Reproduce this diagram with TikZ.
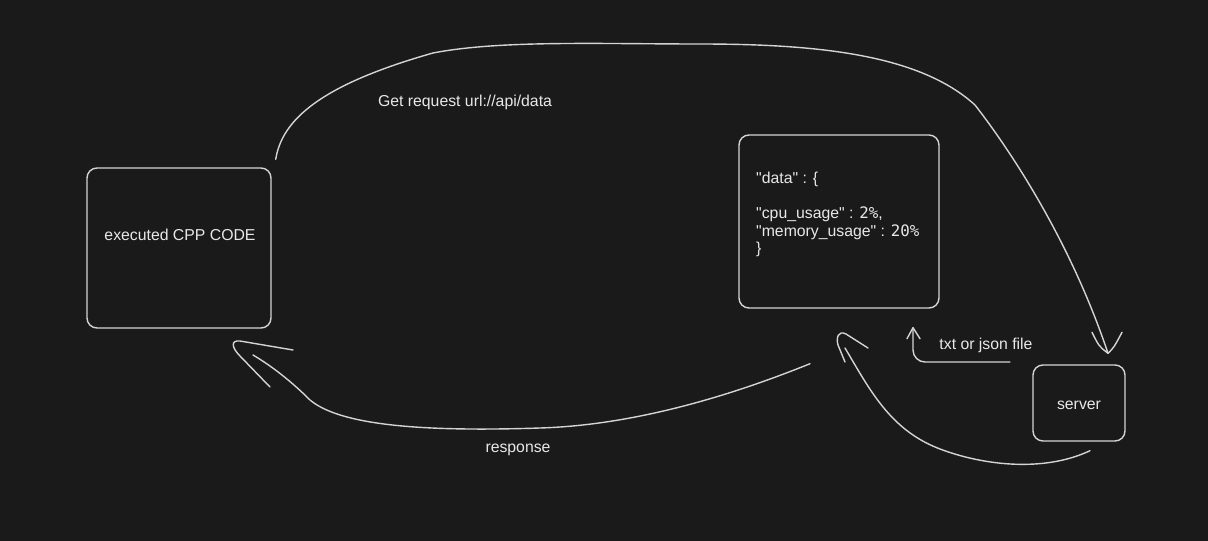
\documentclass[tikz,border=0pt]{standalone}
\usepackage{fontspec}
\setmainfont{Liberation Sans}
\newfontfamily\numfont{DejaVu Sans Mono}
\usetikzlibrary{calc}
\definecolor{bgdark}{RGB}{26,26,26}
\definecolor{penline}{RGB}{212,212,212}
\definecolor{pentext}{RGB}{232,232,232}
\newcommand{\qt}[1]{\textquotedbl #1\textquotedbl}
\tikzset{
	box/.style={draw=penline, line width=1.4pt, rounded corners=10pt, inner sep=0pt},
	lbl/.style={text=pentext, inner sep=0pt, anchor=base, font=\fontsize{15.8}{19}\selectfont},
	wire/.style={draw=penline, line width=1.4pt, line cap=round, line join=round}
}
\begin{document}
\begin{tikzpicture}[x=1pt, y=-1pt]
			%%%%% START %%%%%
			
			\fill[bgdark] (0, 0) rectangle (1208, 541);
			\useasboundingbox (0, 0) rectangle (1208, 541);
			
			\node[box, minimum width=184pt, minimum height=160pt] (cpp) at (179, 248) {};
			\node[lbl] (cpptext) at (180, 240) {executed CPP CODE};
			
			\node[box, minimum width=200pt, minimum height=173pt] (data) at (839, 221.5) {};
			\node[lbl, anchor=base west] (dataline1) at (756, 183) {\qt{data} : \{};
			\node[lbl, anchor=base west] (dataline2) at (756, 218) {\qt{cpu\_usage} : {\numfont 2\%},};
			\node[lbl, anchor=base west] (dataline3) at (756, 236) {\qt{memory\_usage} : {\numfont 20\%}};
			\node[lbl, anchor=base west] (dataline4) at (756, 253) {\}};
			
			\node[box, minimum width=92pt, minimum height=76pt] (server) at (1079, 403) {};
			\node[lbl] (servertext) at (1079, 409) {server};
			
			\node[lbl] (reqlbl) at (465, 106) {Get request url://api/data};
			\node[lbl] (resplbl) at (518, 452) {response};
			\node[lbl] (filelbl) at (986, 349) {txt or json file};
			
			% request: cpp -> server
			\coordinate (reqstart) at ($(cpp.north east)+(4, -8)$);
			\coordinate (reqtip) at ($(server.north)+(29, -11)$);
			\draw[wire] (reqstart) .. controls (282, 120) and (320, 85) .. (433, 53)
				.. controls (500, 40) and (600, 44) .. (700, 44)
				.. controls (820, 44) and (920, 55) .. (975, 105)
				.. controls (1010, 150) and (1070, 240) .. (reqtip);
			\draw[wire] ($(reqtip)+(-16, -21)$) .. controls ($(reqtip)+(-9, -7)$) .. (reqtip)
				.. controls ($(reqtip)+(6, -6)$) .. ($(reqtip)+(14, -21)$);
			
			% response: data -> cpp
			\coordinate (respstart) at ($(data.south)+(-29, 55)$);
			\coordinate (respend) at (253, 355);
			\coordinate (resptip) at (232, 342);
			\draw[wire] (respstart) .. controls (740, 392) and (640, 425) .. (540, 428)
				.. controls (420, 432) and (340, 425) .. (310, 400)
				.. controls (290, 380) and (270, 365) .. (respend);
			\draw[wire] ($(resptip)+(61, 8)$) -- ($(resptip)+(8, -1)$)
				.. controls ($(resptip)+(-2, -2)$) and ($(resptip)+(0, 6)$) .. ($(resptip)+(8, 14)$)
				-- ($(resptip)+(38, 45)$);
			
			% server -> data
			\coordinate (backstart) at ($(server.south)+(11, 9)$);
			\coordinate (backtip) at (840, 333);
			\draw[wire] (backstart) .. controls (1045, 472) and (985, 466) .. (940, 449)
				.. controls (890, 430) and (870, 390) .. (845, 348);
			\draw[wire] ($(backtip)+(28, 15)$) -- ($(backtip)+(6, 1)$)
				.. controls ($(backtip)+(-2, -3)$) and ($(backtip)+(-4, 5)$) .. ($(backtip)+(-2, 12)$)
				-- ($(backtip)+(5, 29)$);
			
			% txt or json file
			\coordinate (filestart) at (1010, 362);
			\coordinate (filetip) at ($(data.south)+(74, 19)$);
			\draw[wire, rounded corners=12pt] (filestart) -- (filetip |- filestart) -- (filetip);
			\draw[wire] ($(filetip)+(-6, 11)$) -- (filetip) -- ($(filetip)+(7, 11)$);
			
			%%%%% END %%%%%
\end{tikzpicture}
\end{document}
